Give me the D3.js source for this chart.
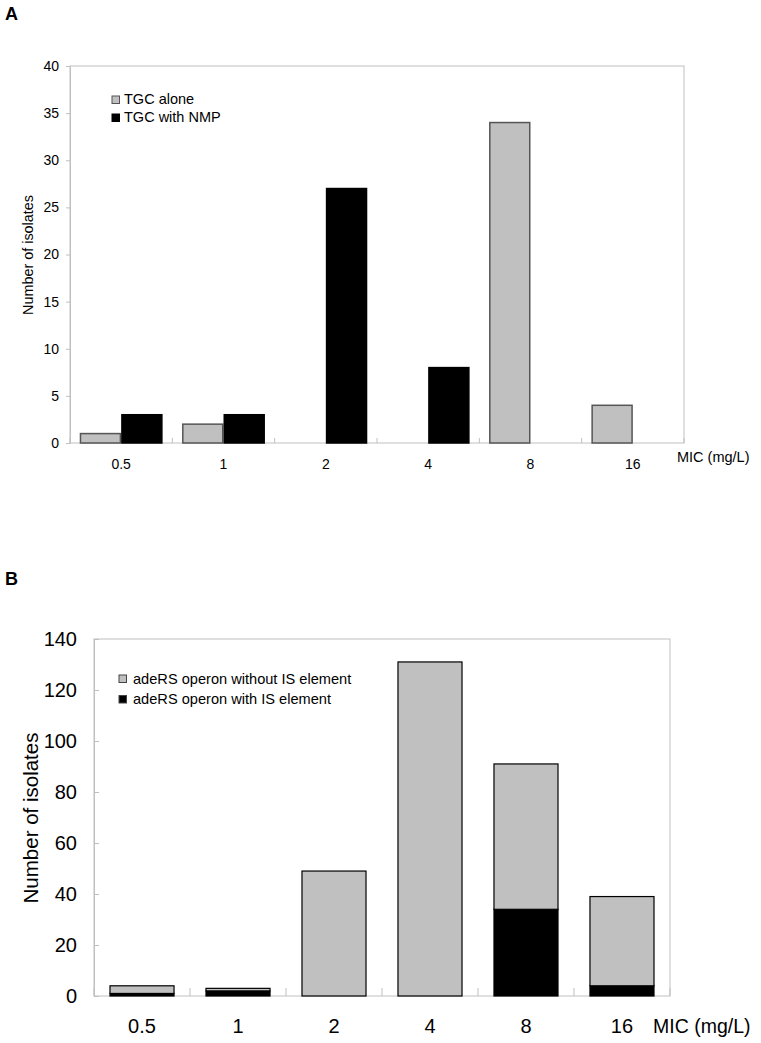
<!DOCTYPE html>
<html>
<head>
<meta charset="utf-8">
<script src="https://cdn.jsdelivr.net/npm/d3@7"></script>
<style>
  body { margin: 0; background: #fff; }
  svg text { font-family: "Liberation Sans", Arial, sans-serif; fill: #000; }
</style>
</head>
<body>
<div id="chart"></div>
<script>
// data
var micLabels = ['0.5', '1', '2', '4', '8', '16'];

// panel A: tigecycline MIC with / without NMP
var tgcAlone = [1, 2, 0, 0, 34, 4];
var tgcWithNmp = [3, 3, 27, 8, 0, 0];
var yTicksA = [0, 5, 10, 15, 20, 25, 30, 35, 40];

// panel B: adeRS operon, stacked
var withoutIS = [3, 1, 49, 131, 57, 35];
var withIS = [1, 2, 0, 0, 34, 4];
var yTicksB = [0, 20, 40, 60, 80, 100, 120, 140];

var svgWidth = 761;
var svgHeight = 1043;
var grey = '#c0c0c0';
var lineGrey = '#c0c0c0';

var svg = d3.select('#chart')
  .append('svg')
  .attr('width', svgWidth)
  .attr('height', svgHeight);

// ---------- panel A ----------
var plotA = { left: 70, right: 684, top: 66, bottom: 443 };

var xA = d3.scaleBand()
  .domain(micLabels)
  .range([plotA.left, plotA.right])
  .paddingInner(0.19)
  .paddingOuter(0.095);

var seriesA = d3.scaleBand()
  .domain(['alone', 'nmp'])
  .range([0, xA.bandwidth()]);

var yA = d3.scaleLinear()
  .domain([0, 40])
  .range([plotA.bottom, plotA.top]);

svg.append('text')
  .attr('x', 5)
  .attr('y', 20)
  .attr('font-size', '18px')
  .attr('font-weight', 'bold')
  .text('A');

// frame
svg.append('rect')
  .attr('x', plotA.left)
  .attr('y', plotA.top)
  .attr('width', plotA.right - plotA.left)
  .attr('height', plotA.bottom - plotA.top)
  .attr('fill', 'none')
  .attr('stroke', lineGrey);

// y axis
var yAxisA = svg.append('g')
  .attr('transform', `translate(${plotA.left},0)`)
  .call(d3.axisLeft(yA).tickValues(yTicksA).tickSize(4).tickPadding(7));
yAxisA.selectAll('path, line').attr('stroke', lineGrey);
yAxisA.selectAll('text').attr('font-size', '14px').attr('font-family', null);

// category separators on x axis (inward ticks)
svg.append('g').selectAll('line')
  .data(d3.range(micLabels.length + 1))
  .enter()
  .append('line')
  .attr('x1', i => plotA.left + i * xA.step())
  .attr('x2', i => plotA.left + i * xA.step())
  .attr('y1', plotA.bottom - 5)
  .attr('y2', plotA.bottom)
  .attr('stroke', lineGrey);

// bars
var rowsA = micLabels.map((m, i) => ({ mic: m, alone: tgcAlone[i], nmp: tgcWithNmp[i] }));

var groupsA = svg.append('g').selectAll('g')
  .data(rowsA)
  .enter()
  .append('g')
  .attr('transform', d => `translate(${xA(d.mic)},0)`);

groupsA.selectAll('rect')
  .data(d => [{ key: 'alone', v: d.alone }, { key: 'nmp', v: d.nmp }].filter(s => s.v > 0))
  .enter()
  .append('rect')
  .attr('x', s => seriesA(s.key) + 0.75)
  .attr('y', s => yA(s.v))
  .attr('width', seriesA.bandwidth() - 1.5)
  .attr('height', s => yA(0) - yA(s.v))
  .attr('fill', s => s.key === 'alone' ? grey : '#000')
  .attr('stroke', s => s.key === 'alone' ? '#555' : '#000')
  .attr('stroke-width', 1.5);

// x labels
svg.append('g').selectAll('text')
  .data(micLabels)
  .enter()
  .append('text')
  .attr('x', d => xA(d) + xA.bandwidth() / 2)
  .attr('y', 469)
  .attr('text-anchor', 'middle')
  .attr('font-size', '14px')
  .text(d => d);

svg.append('text')
  .attr('x', 677)
  .attr('y', 462)
  .attr('font-size', '14.5px')
  .text('MIC (mg/L)');

svg.append('text')
  .attr('transform', 'translate(33,255) rotate(-90)')
  .attr('text-anchor', 'middle')
  .attr('font-size', '14.4px')
  .text('Number of isolates');

// legend A
var legendA = [{ label: 'TGC alone', fill: grey, stroke: '#555' },
               { label: 'TGC with NMP', fill: '#000', stroke: '#000' }];
var legA = svg.append('g').selectAll('g')
  .data(legendA)
  .enter()
  .append('g')
  .attr('transform', (d, i) => `translate(112,${96 + i * 18})`);
legA.append('rect')
  .attr('width', 7.5)
  .attr('height', 7.5)
  .attr('fill', d => d.fill)
  .attr('stroke', d => d.stroke);
legA.append('text')
  .attr('x', 12)
  .attr('y', 7.5)
  .attr('font-size', '14.5px')
  .text(d => d.label);

// ---------- panel B ----------
var plotB = { left: 94, right: 670, top: 639, bottom: 996 };

var xB = d3.scaleBand()
  .domain(micLabels)
  .range([plotB.left, plotB.right])
  .paddingInner(0.333)
  .paddingOuter(0.1667);

var yB = d3.scaleLinear()
  .domain([0, 140])
  .range([plotB.bottom, plotB.top]);

svg.append('text')
  .attr('x', 5)
  .attr('y', 585)
  .attr('font-size', '18px')
  .attr('font-weight', 'bold')
  .text('B');

svg.append('rect')
  .attr('x', plotB.left)
  .attr('y', plotB.top)
  .attr('width', plotB.right - plotB.left)
  .attr('height', plotB.bottom - plotB.top)
  .attr('fill', 'none')
  .attr('stroke', lineGrey);

var yAxisB = svg.append('g')
  .attr('transform', `translate(${plotB.left},0)`)
  .call(d3.axisLeft(yB).tickValues(yTicksB).tickSize(-5).tickPadding(17));
yAxisB.selectAll('path, line').attr('stroke', lineGrey);
yAxisB.selectAll('text').attr('font-size', '20px').attr('font-family', null);

svg.append('g').selectAll('line')
  .data(d3.range(micLabels.length + 1))
  .enter()
  .append('line')
  .attr('x1', i => plotB.left + i * xB.step())
  .attr('x2', i => plotB.left + i * xB.step())
  .attr('y1', plotB.bottom - 8)
  .attr('y2', plotB.bottom)
  .attr('stroke', lineGrey);

// stacked bars: with IS at the bottom, without IS on top
var rowsB = micLabels.map((m, i) => ({ mic: m, withIS: withIS[i], withoutIS: withoutIS[i] }));
var stackB = d3.stack().keys(['withIS', 'withoutIS'])(rowsB);
var colorB = { withIS: '#000', withoutIS: grey };

svg.append('g').selectAll('g')
  .data(stackB)
  .enter()
  .append('g')
  .attr('fill', s => colorB[s.key])
  .selectAll('rect')
  .data(s => s.filter(p => p[1] > p[0]))
  .enter()
  .append('rect')
  .attr('x', p => xB(p.data.mic))
  .attr('y', p => yB(p[1]))
  .attr('width', xB.bandwidth())
  .attr('height', p => yB(p[0]) - yB(p[1]))
  .attr('stroke', '#000')
  .attr('stroke-width', 1.2);

svg.append('g').selectAll('text')
  .data(micLabels)
  .enter()
  .append('text')
  .attr('x', d => xB(d) + xB.bandwidth() / 2)
  .attr('y', 1033)
  .attr('text-anchor', 'middle')
  .attr('font-size', '20px')
  .text(d => d);

svg.append('text')
  .attr('x', 653)
  .attr('y', 1033)
  .attr('font-size', '19.5px')
  .text('MIC (mg/L)');

svg.append('text')
  .attr('transform', 'translate(38,818) rotate(-90)')
  .attr('text-anchor', 'middle')
  .attr('font-size', '20.5px')
  .text('Number of isolates');

// legend B
var legendB = [{ label: 'adeRS operon without IS element', fill: grey },
               { label: 'adeRS operon with IS element', fill: '#000' }];
var legB = svg.append('g').selectAll('g')
  .data(legendB)
  .enter()
  .append('g')
  .attr('transform', (d, i) => `translate(119,${675 + i * 20.5})`);
legB.append('rect')
  .attr('width', 7.5)
  .attr('height', 7.5)
  .attr('fill', d => d.fill)
  .attr('stroke', '#444');
legB.append('text')
  .attr('x', 14)
  .attr('y', 8.5)
  .attr('font-size', '14.6px')
  .text(d => d.label);
</script>
</body>
</html>
